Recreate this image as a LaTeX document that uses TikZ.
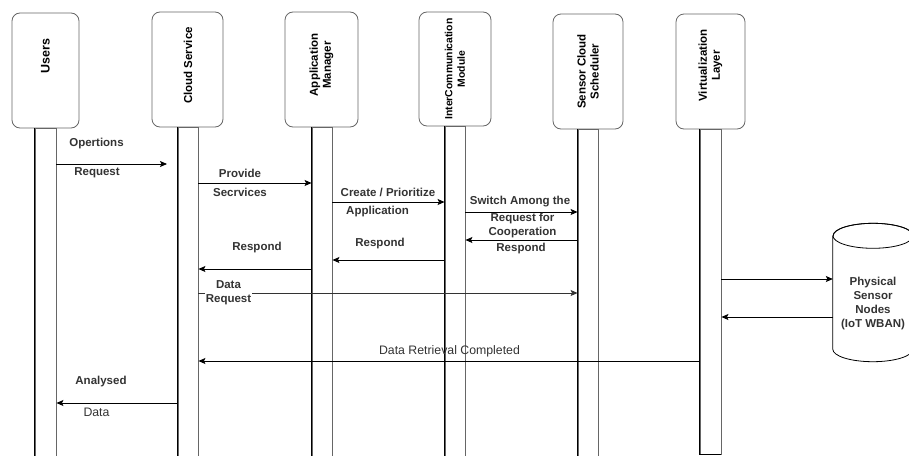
\documentclass[tikz,border=0pt]{standalone}
\usepackage{fontspec}
\setmainfont{Liberation Sans}
\usetikzlibrary{arrows.meta}
\definecolor{txt}{HTML}{333333}
\definecolor{edge}{HTML}{666666}
\begin{document}
\begin{tikzpicture}[x=1pt,y=-1pt,
  hbox/.style={draw=edge, rounded corners=8pt, line width=0.8pt, inner sep=0pt},
  htext/.style={rotate=90, font=\fontsize{11.5}{13}\selectfont\bfseries, align=center, inner sep=0pt, text=black},
  bar/.style={draw=edge, line width=0.9pt, anchor=north, inner sep=0pt},
  barl/.style={black, line width=0.9pt},
  arr/.style={-{Stealth[length=7pt,width=6pt,inset=1.5pt]}, line width=0.8pt, black},
  lbl/.style={font=\fontsize{11.5}{14}\selectfont\bfseries, text=txt, align=center, inner sep=1pt},
  lblr/.style={font=\fontsize{12.3}{14}\selectfont, text=txt, align=center, inner sep=1pt},
]
\clip (0,0) rectangle (909,455);
\fill[white] (0,0) rectangle (909,455);

% header boxes
\node[hbox, minimum width=67, minimum height=115] (users) at (45.5,70.5) {};
\node[hbox, minimum width=71, minimum height=115] (cloud) at (187.5,69.5) {};
\node[hbox, minimum width=73, minimum height=115] (appm) at (321.5,69.5) {};
\node[hbox, minimum width=72, minimum height=114] (inter) at (455,69) {};
\node[hbox, minimum width=70, minimum height=115] (sched) at (588,71.5) {};
\node[hbox, minimum width=69, minimum height=115] (virt) at (710.5,71.5) {};

% header texts
\node[htext, font=\fontsize{12.5}{13}\selectfont\bfseries] (tusers) at (45.5,56) {Users};
\node[htext] (tcloud) at (188,65.5) {Cloud Service};
\node[htext] (tappm) at (321.5,65) {Application\\Manager};
\node[htext, font=\fontsize{10.4}{12.5}\selectfont\bfseries] (tinter) at (455,69) {InterCommunication\\Module};
\node[htext] (tsched) at (588,71.5) {Sensor Cloud\\Scheduler};
\node[htext] (tvirt) at (710.5,65.5) {Virtualization\\Layer};

% lifeline bars
\node[bar, minimum width=21, minimum height=335] (ubar) at (45.5,128) {};
\node[bar, minimum width=20, minimum height=335] (cbar) at (188,127) {};
\node[bar, minimum width=20, minimum height=335] (abar) at (322,127) {};
\node[bar, minimum width=20, minimum height=335] (ibar) at (455,126) {};
\node[bar, minimum width=20, minimum height=335] (sbar) at (588,129) {};
\node[bar, minimum width=21, minimum height=325] (vbar) at (710.5,129) {};
\foreach \b in {ubar,cbar,abar,ibar,sbar,vbar}
  \draw[barl] (\b.north west) -- (\b.south west);
\draw[barl] (vbar.south west) -- (vbar.south east);

% physical sensor nodes (cylinder)
\node[minimum width=80, minimum height=113, inner sep=0pt] (phys) at (873,292.5) {};
\draw[line width=0.8pt, black, fill=white] (phys.north west) -- (phys.south west)
  arc[start angle=180, end angle=360, x radius=40pt, y radius=12.5pt]
  -- (phys.north east) arc[start angle=0, end angle=180, x radius=40pt, y radius=12.5pt];
\draw[line width=0.8pt, black] (phys.north) ellipse[x radius=40pt, y radius=12.5pt];
\node[lbl, font=\fontsize{11.5}{13.7}\selectfont\bfseries] (tphys) at (873,303.5) {Physical\\Sensor\\Nodes\\(IoT WBAN)};

% messages
\coordinate (req1) at (167,164);
\draw[arr] (ubar.east |- req1) -- (req1);
\node[lbl] (l1a) at (96.5,144) {Opertions};
\node[lbl] (l1b) at (97,173) {Request};

\draw[arr] (cbar.east |- 0,183) -- (abar.west |- 0,183);
\node[lbl] (l2a) at (240,173) {Provide};
\node[lbl] (l2b) at (240,192) {Secrvices};

\draw[arr] (abar.east |- 0,202) -- (ibar.west |- 0,202);
\node[lbl] (l3a) at (388,192) {Create / Prioritize};
\node[lbl] (l3b) at (377.5,212) {Application};

\draw[arr] (ibar.east |- 0,212) -- (sbar.west |- 0,212);
\node[lbl] (l4a) at (520,202) {Switch Among the};
\node[lbl] (l4b) at (522.5,226) {Request for\\Cooperation};

\draw[arr] (sbar.west |- 0,240) -- (ibar.east |- 0,240);
\node[lbl] (l5) at (521,249) {Respond};

\draw[arr] (ibar.west |- 0,260) -- (abar.east |- 0,260);
\node[lbl] (l6) at (380,244) {Respond};

\draw[arr] (abar.west |- 0,269) -- (cbar.east |- 0,269);
\node[lbl] (l7) at (257,248) {Respond};

\draw[arr, draw=black!80] (cbar.east |- 0,293) -- (sbar.west |- 0,293);
\node[lbl, fill=white] (l8) at (228.5,293) {Data\\Request};

\draw[arr] (vbar.east |- 0,279) -- (phys.west |- 0,279);
\draw[arr] (phys.west |- 0,317) -- (vbar.east |- 0,317);

\draw[arr] (vbar.west |- 0,361) -- (cbar.east |- 0,361);
\node[lblr] (l9) at (449.5,351) {Data Retrieval Completed};

\draw[arr] (cbar.west |- 0,403) -- (ubar.east |- 0,403);
\node[lbl] (l10a) at (101,382) {Analysed};
\node[lblr] (l10b) at (96.5,412) {Data};
\end{tikzpicture}
\end{document}
